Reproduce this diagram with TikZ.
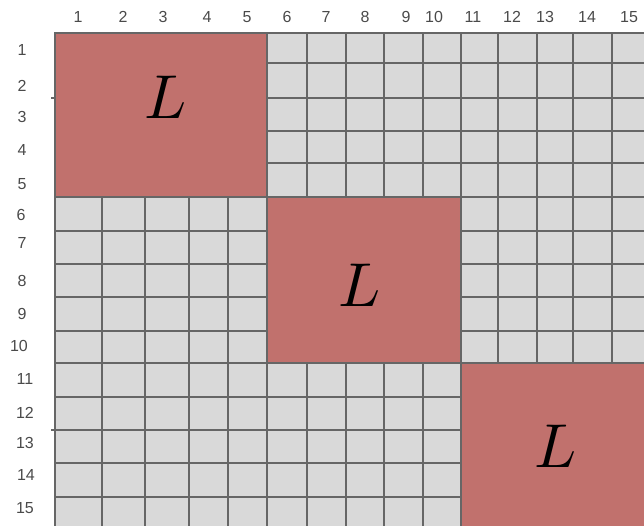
\documentclass[tikz,border=0pt]{standalone}
\usepackage{fontspec}
\setmainfont{Liberation Sans}
\definecolor{cellgray}{HTML}{D9D9D9}
\definecolor{gridc}{HTML}{666666}
\definecolor{blockred}{HTML}{C1716D}
\definecolor{lblc}{HTML}{4A4A4A}
\tikzset{
  gridline/.style={draw=gridc, line width=1.8pt},
  block/.style={fill=blockred, draw=gridc, line width=1.8pt},
  lbl/.style={text=lblc, font=\fontsize{16}{16}\selectfont, inner sep=0pt},
  biglabel/.style={inner sep=0pt}
}
\begin{document}
\begin{tikzpicture}[x=1pt,y=-1pt]
\useasboundingbox (0,0) rectangle (644,526);
\fill[cellgray] (55,33) rectangle (650,532);
\foreach \x in {55,102,145,189,228,267,307,346,384,423,461,498,537,573,612}
  \draw[gridline] (\x,33) -- (\x,532);
\foreach \y in {33,63,98,131,163,197,231,264,297,331,363,397,430,463,497}
  \draw[gridline] (55,\y) -- (650,\y);
\draw[gridline] (51,98) -- (55,98);
\draw[gridline] (51,430) -- (55,430);
\path[block] (55,33) rectangle (267,197);
\path[block] (267,197) rectangle (461,363);
\path[block] (461,363) rectangle (652,534);
\node[biglabel] (L1) at (166,97) {\scalebox{6.2}{$L$}};
\node[biglabel] (L2) at (360,285) {\scalebox{6.2}{$L$}};
\node[biglabel] (L3) at (556,446) {\scalebox{6.2}{$L$}};
\foreach \n/\x in {1/78,2/123,3/163,4/207,5/247,6/287,7/326,8/365,9/406,10/434,11/473,12/512,13/545,14/587,15/629}
  \node[lbl] (col\n) at (\x,17) {\n};
\foreach \n/\x/\y in {1/22/50,2/22/86,3/22/117,4/22/150,5/22/184,6/21/215,7/22/243,8/22/281,9/22/314,10/19/346,11/25/379,12/25/413,13/25/443,14/26/475,15/25/508}
  \node[lbl] (row\n) at (\x,\y) {\n};
\end{tikzpicture}
\end{document}
